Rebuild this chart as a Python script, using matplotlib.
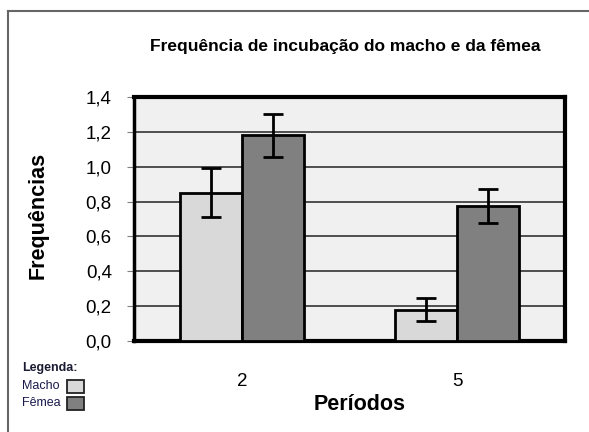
import matplotlib
matplotlib.use("Agg")
import matplotlib.pyplot as plt
from matplotlib.patches import Rectangle
from matplotlib.lines import Line2D
import numpy as np

# Dados
periodos = ["2", "5"]
macho = [0.85, 0.18]
macho_erro = [0.14, 0.067]
femea = [1.18, 0.775]
femea_erro = [0.125, 0.10]
yticks = [0.0, 0.2, 0.4, 0.6, 0.8, 1.0, 1.2, 1.4]

W, H = 589, 432
fig = plt.figure(figsize=(W / 100, H / 100), dpi=100)
fig.patch.set_facecolor("white")

# moldura externa (só topo e esquerda visíveis)
fig.add_artist(Line2D([8 / W, 8 / W], [0, 1 - 11 / H], color="#666666", lw=1.5))
fig.add_artist(Line2D([8 / W, 1], [1 - 11 / H, 1 - 11 / H], color="#666666", lw=1.5))

ax = fig.add_axes([134 / W, 1 - 341 / H, (565 - 134) / W, (341 - 97) / H])
ax.set_facecolor("#f0f0f0")

x = np.arange(len(periodos))
w = 0.288
err_kw = dict(ecolor="black", elinewidth=2, capsize=7, capthick=2)
ax.bar(x - w / 2, macho, w, yerr=macho_erro, color="#d9d9d9",
       edgecolor="black", linewidth=2, error_kw=err_kw, zorder=3)
ax.bar(x + w / 2, femea, w, yerr=femea_erro, color="#808080",
       edgecolor="black", linewidth=2, error_kw=err_kw, zorder=3)

ax.set_xlim(-0.5, 1.5)
ax.set_ylim(0, 1.4)
ax.set_yticks(yticks)
ax.set_yticklabels([f"{v:.1f}".replace(".", ",") for v in yticks],
                   fontsize=13.5, family="Liberation Sans")
ax.yaxis.grid(True, color="#333333", lw=1.2, zorder=0)
ax.set_axisbelow(True)
ax.tick_params(axis="y", direction="out", length=5, color="#808080", pad=11)

ax.set_xticks(x)
ax.set_xticklabels(periodos, fontsize=13.5, family="Liberation Sans")
ax.tick_params(axis="x", length=0, pad=23)

for s in ax.spines.values():
    s.set_color("black")
    s.set_linewidth(3)
ax.spines["left"].set_linewidth(2.5)

ax.set_ylabel("Frequências", fontsize=15.5, fontweight="bold",
              family="Liberation Sans")
ax.yaxis.set_label_coords((38 - 134) / (565 - 134), (341 - 215) / (341 - 97))
ax.set_xlabel("Períodos", fontsize=15.5, fontweight="bold",
              family="Liberation Sans")
ax.xaxis.set_label_coords((360 - 134) / (565 - 134), -(405 - 341) / (341 - 97))
ax.xaxis.label.set_va("center")
ax.yaxis.label.set_va("center")

fig.text(345 / W, 1 - 47 / H, "Frequência de incubação do macho e da fêmea",
         ha="center", va="center", fontsize=12.5, fontweight="bold",
         family=["Liberation Sans Narrow", "Liberation Sans"])

# legenda manual
fig.text(22 / W, 1 - 368 / H, "Legenda:", fontsize=9, fontweight="bold",
         family="Liberation Sans", color="#1a1a33", va="center")
for i, (nome, cor) in enumerate([("Macho", "#d9d9d9"), ("Fêmea", "#808080")]):
    yy = 1 - (386 + i * 17) / H
    fig.text(22 / W, yy, nome, fontsize=9, family="Liberation Sans",
             color="#1a1a4d", va="center")
    fig.add_artist(Rectangle((67 / W, yy - 6.5 / H), 17 / W, 13 / H,
                             facecolor=cor, edgecolor="#222222", lw=1.3))

fig.savefig("out.png", dpi=100)
